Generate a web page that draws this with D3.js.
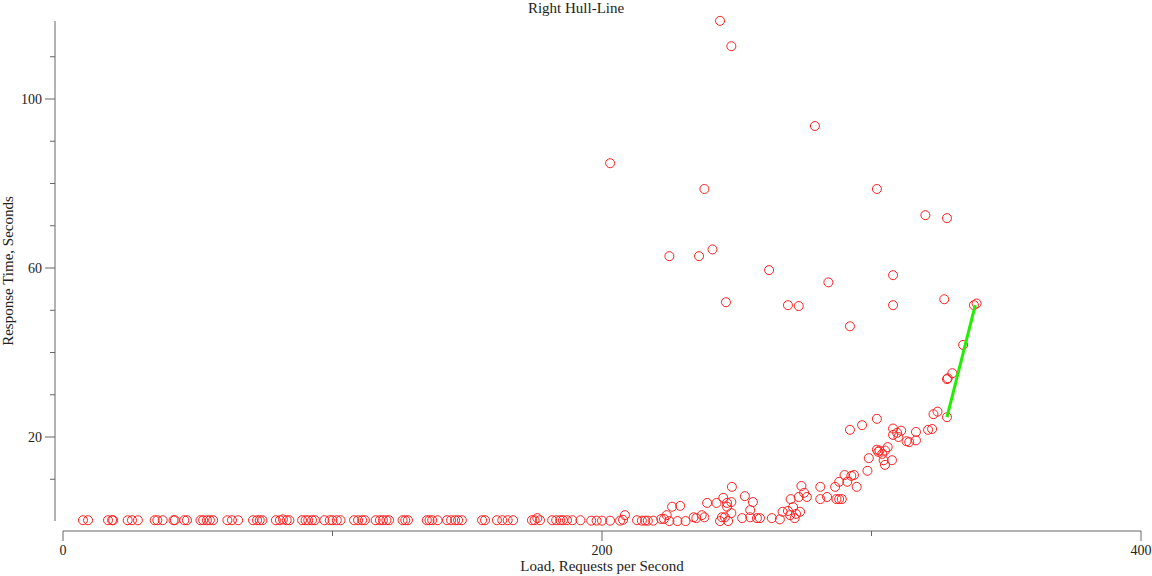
<!DOCTYPE html>
<html>
<head>
<meta charset="utf-8">
<script src="https://cdn.jsdelivr.net/npm/d3@7"></script>
<style>
  body { margin: 0; background: #fff; }
  text { font-family: "Liberation Serif", "Times New Roman", serif; fill: #222; }
</style>
</head>
<body>
<svg id="chart" width="1152" height="576"></svg>
<script>
// load (requests/s) and response time (s) of each sample
const loadX = [
  7.4, 9.3, 16.7, 18.2, 18.6, 24, 25.6, 27.8, 34, 35, 37, 41, 41.5, 45, 46,
  51, 52, 53.4, 54.5, 55.7, 61, 62.7, 65, 70.5, 72, 73, 74, 79, 80.5, 81.6, 83, 84,
  88.7, 90, 91, 92.4, 93.5, 97, 99, 100, 101.6, 103, 108, 109.5, 111, 112,
  116, 117.6, 118.7, 120, 121, 126, 127, 128, 135, 136, 137, 139,
  142.5, 144, 145.5, 146.6, 148, 155.5, 156.6, 161, 163, 165, 167,
  174, 175, 176, 177, 181.5, 183, 184.5, 185.5, 187, 189, 192,
  196, 198, 200, 203, 206.7, 207.8, 208.5, 213, 214.8, 216, 217, 219, 222, 223,
  224, 225, 226, 229, 228, 231, 234, 235, 237, 238, 239, 242.5, 243.8, 244.5,
  245, 245.6, 246.4, 246.4, 246.8, 248.2, 248, 248, 252, 253, 255, 256, 255,
  257.5, 258.6, 263, 266, 267, 269, 269.8, 270.9, 271.5, 272, 270, 273.5, 273,
  274, 275, 276, 281, 281, 283.5, 286.5, 287, 288, 289, 288, 290, 291, 292.5,
  293.5, 294.5, 298.5, 299, 302, 296.5, 292, 302, 303, 302.5, 304, 306, 305,
  304.5, 305, 307.6, 308, 308, 309.5, 311, 310, 313, 314, 316.5, 316.5,
  321, 322.5, 323, 324.5, 328,
  203, 243.8, 248, 279, 238, 302, 320, 328, 225, 236, 241, 262, 308, 284,
  246, 269, 273, 308, 327, 292, 338, 339, 334, 330, 328, 328.3
];
const respY = [
  0.3, 0.3, 0.3, 0.3, 0.3, 0.3, 0.3, 0.3, 0.3, 0.3, 0.3, 0.3, 0.3, 0.3, 0.3,
  0.3, 0.3, 0.3, 0.3, 0.3, 0.3, 0.3, 0.3, 0.3, 0.3, 0.3, 0.3, 0.3, 0.3, 0.5, 0.3, 0.3,
  0.3, 0.3, 0.3, 0.3, 0.3, 0.3, 0.3, 0.3, 0.3, 0.3, 0.3, 0.3, 0.3, 0.3,
  0.3, 0.3, 0.3, 0.3, 0.3, 0.3, 0.3, 0.3, 0.3, 0.3, 0.3, 0.3,
  0.3, 0.3, 0.3, 0.3, 0.3, 0.3, 0.3, 0.3, 0.3, 0.3, 0.3,
  0.3, 0.3, 0.8, 0.3, 0.3, 0.3, 0.3, 0.3, 0.3, 0.3, 0.3,
  0.2, 0.2, 0.2, 0.2, 0.2, 0.4, 1.5, 0.3, 0.2, 0.2, 0.2, 0.2, 0.6, 0.6,
  1.5, 0.1, 3.5, 3.7, 0.1, 0.1, 1, 0.8, 1.5, 1, 4.4, 4.4, 0.1, 1,
  5.6, 1, 4.4, 3.5, 0.1, 8.2, 4.6, 2, 0.8, 6, 2.7, 4.6, 1,
  0.8, 0.8, 0.8, 0.5, 2.3, 2.5, 1.5, 3.4, 0.8, 1.8, 5.3, 2.3, 5.8,
  8.4, 6.8, 5.8, 8.2, 5.3, 5.8, 8.2, 5.3, 5.3, 5.3, 9.4, 11, 9.4, 10.8,
  11, 8.2, 12, 15, 24.3, 22.8, 21.7, 17, 16.8, 16.5, 16, 17.6, 16.8,
  14.5, 13.4, 14.5, 22, 20.5, 21, 21.5, 20, 19, 18.8, 19.2, 21.2,
  21.7, 21.9, 25.4, 26, 24.7,
  84.8, 118.5, 112.5, 93.6, 78.7, 78.7, 72.5, 71.8, 62.8, 62.8, 64.4, 59.5, 58.3, 56.6,
  51.9, 51.2, 51, 51.2, 52.6, 46.2, 51.2, 51.6, 41.8, 35.1, 33.7, 33.9
];
// right hull segment
const hullX = [328, 338.5];
const hullY = [24.7, 51.2];

const xTicks = [0, 100, 200, 300, 400];
const xLabels = [0, 200, 400];
const yTicks = [10, 20, 30, 40, 50, 60, 70, 80, 90, 100, 110];
const yLabels = [20, 60, 100];

const svg = d3.select("#chart");
const x = d3.scaleLinear().domain([0, 400]).range([63, 1141]);
const y = d3.scaleLinear().domain([0, 100]).range([521.5, 99]);
const axisColor = "#666";

// y axis
const yg = svg.append("g").attr("transform", "translate(55,0)");
yg.append("line").attr("x1", 0).attr("x2", 0).attr("y1", 21).attr("y2", 521)
  .attr("stroke", axisColor);
yg.selectAll("line.t").data(yTicks).enter().append("line").attr("class", "t")
  .attr("x1", d => yLabels.includes(d) ? -10 : -5).attr("x2", 0)
  .attr("y1", d => y(d)).attr("y2", d => y(d)).attr("stroke", axisColor);
yg.selectAll("text").data(yLabels).enter().append("text")
  .attr("x", -13).attr("y", d => y(d) + 5).attr("text-anchor", "end")
  .attr("font-size", 14).text(d => d);

// x axis
const xg = svg.append("g").attr("transform", "translate(0,531)");
xg.append("line").attr("x1", x(0)).attr("x2", x(400)).attr("y1", 0).attr("y2", 0)
  .attr("stroke", axisColor);
xg.selectAll("line.t").data(xTicks).enter().append("line").attr("class", "t")
  .attr("x1", d => x(d)).attr("x2", d => x(d)).attr("y1", 0)
  .attr("y2", d => xLabels.includes(d) ? 10 : 5).attr("stroke", axisColor);
xg.selectAll("text").data(xLabels).enter().append("text")
  .attr("x", d => x(d)).attr("y", 24).attr("text-anchor", "middle")
  .attr("font-size", 14).text(d => d);

// points
svg.append("g").selectAll("circle").data(loadX).enter().append("circle")
  .attr("cx", (d) => x(d)).attr("cy", (d, i) => y(respY[i])).attr("r", 4.5)
  .attr("fill", "none").attr("stroke", "#ff2020").attr("stroke-width", 1);

// hull line
svg.append("path")
  .attr("d", d3.line().x(d => x(d[0])).y(d => y(d[1]))(hullX.map((v, i) => [v, hullY[i]])))
  .attr("stroke", "#22ee00").attr("stroke-width", 3).attr("fill", "none");

// titles
svg.append("text").attr("x", 576).attr("y", 13).attr("text-anchor", "middle")
  .attr("font-size", 15).text("Right Hull-Line");
svg.append("text").attr("x", 602).attr("y", 571).attr("text-anchor", "middle")
  .attr("font-size", 15).text("Load, Requests per Second");
svg.append("text").attr("transform", "translate(13,271) rotate(-90)")
  .attr("text-anchor", "middle").attr("font-size", 15).text("Response Time, Seconds");
</script>
</body>
</html>
